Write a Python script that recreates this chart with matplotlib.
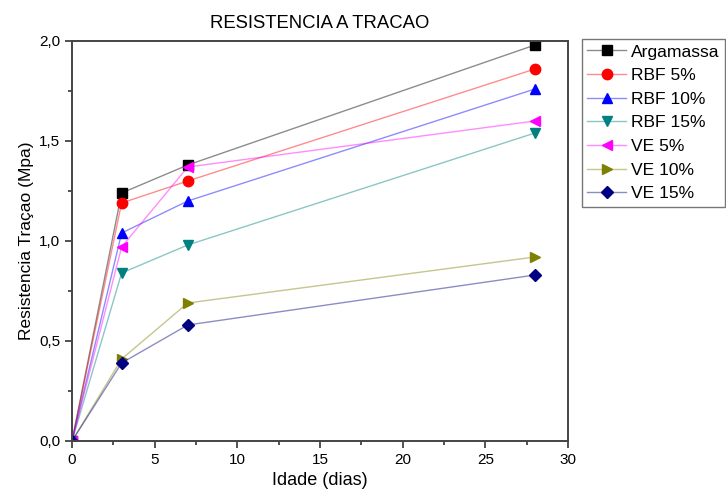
import matplotlib.pyplot as plt
from matplotlib.colors import to_rgba
from matplotlib.ticker import MultipleLocator, FuncFormatter

plt.rcParams['font.family'] = ['Liberation Sans', 'DejaVu Sans']

# --- data ---
idade = [0, 3, 7, 28]
argamassa = [0.0, 1.24, 1.38, 1.98]
rbf_5 = [0.0, 1.19, 1.30, 1.86]
rbf_10 = [0.0, 1.04, 1.20, 1.76]
rbf_15 = [0.0, 0.84, 0.98, 1.54]
ve_5 = [0.0, 0.97, 1.37, 1.60]
ve_10 = [0.0, 0.41, 0.69, 0.92]
ve_15 = [0.0, 0.39, 0.58, 0.83]

series = [
    ('Argamassa', argamassa, '#000000', 's'),
    ('RBF 5%', rbf_5, '#ff0000', 'o'),
    ('RBF 10%', rbf_10, '#0000ff', '^'),
    ('RBF 15%', rbf_15, '#008080', 'v'),
    ('VE 5%', ve_5, '#ff00ff', '<'),
    ('VE 10%', ve_10, '#808000', '>'),
    ('VE 15%', ve_15, '#000080', 'D'),
]

fig = plt.figure(figsize=(7.26, 5), dpi=100)
ax = fig.add_axes([0.0992, 0.118, 0.6832, 0.8])

# thin pale connecting lines, solid markers
for name, vals, col, mk in series:
    ms = 6.5 if mk == 'D' else 7.5
    ax.plot(idade, vals, color=to_rgba(col, 0.45), lw=1, marker=mk, ms=ms,
            markerfacecolor=col, markeredgecolor=col, label=name)

ax.set_xlim(0, 30)
ax.set_ylim(0, 2.0)
ax.xaxis.set_major_locator(MultipleLocator(5))
ax.xaxis.set_minor_locator(MultipleLocator(2.5))
ax.yaxis.set_major_locator(MultipleLocator(0.5))
ax.yaxis.set_minor_locator(MultipleLocator(0.25))
ax.yaxis.set_major_formatter(FuncFormatter(lambda v, p: f'{v:.1f}'.replace('.', ',')))
ax.tick_params(which='major', length=5, width=1.2, labelsize=11, colors='#333333',
               labelcolor='black')
ax.tick_params(which='minor', length=3, width=1.2, colors='#333333')
for s in ax.spines.values():
    s.set_linewidth(1.4)
    s.set_color('#444444')

ax.set_title('RESISTENCIA A TRACAO', fontsize=13.3, pad=9)
ax.set_xlabel('Idade (dias)', fontsize=13)
ax.set_ylabel('Resistencia Traçao (Mpa)', fontsize=12.5)

leg = fig.legend(loc='upper left', bbox_to_anchor=(582 / 726, 1 - 39 / 500),
                 fontsize=12.6, frameon=True, fancybox=False, borderpad=0.3,
                 labelspacing=0.48, handlelength=2.2, handletextpad=0.3,
                 borderaxespad=0)
leg.get_frame().set_edgecolor('#555555')
leg.get_frame().set_linewidth(1)

fig.savefig('out.png', dpi=100)
